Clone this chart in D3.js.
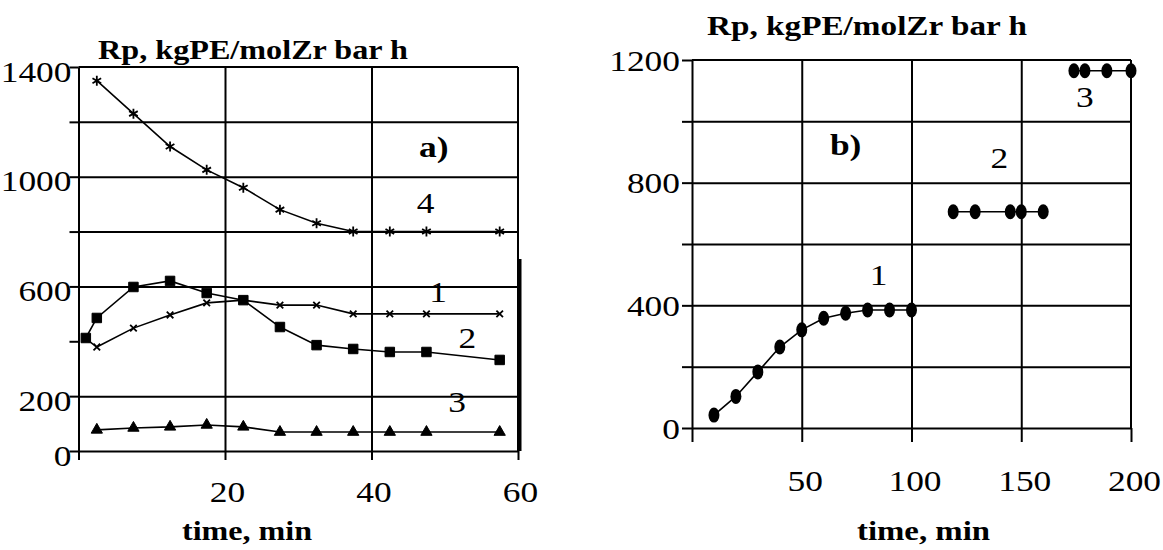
<!DOCTYPE html>
<html>
<head>
<meta charset="utf-8">
<script src="https://cdn.jsdelivr.net/npm/d3@7"></script>
<style>
  body { margin: 0; background: #fff; }
  svg text { font-family: "Liberation Serif", "Times New Roman", "DejaVu Serif", serif; }
</style>
</head>
<body>
<div class="chartWrap"></div>
<script>
//Data - panel a) Rp vs time for runs 1-4
const timeA12 = [1, 2.5, 7.5, 12.5, 17.5, 22.5, 27.5, 32.5, 37.5, 42.5, 47.5, 57.5];
const timeA34 = [2.5, 7.5, 12.5, 17.5, 22.5, 27.5, 32.5, 37.5, 42.5, 47.5, 57.5];
const rpA1 = [410, 379, 448, 496, 540, 550, 532, 532, 500, 500, 500, 500];
const rpA2 = [412, 485, 598, 620, 576, 550, 452, 386, 372, 361, 361, 332];
const rpA3 = [77, 84, 88, 95, 88, 69, 69, 69, 69, 69, 69];
const rpA4 = [1350, 1230, 1110, 1025, 960, 880, 830, 800, 800, 800, 800];

//Data - panel b) Rp vs time for steps 1-3
const timeB1 = [10, 20, 30, 40, 50, 60, 70, 80, 90, 100];
const rpB1 = [42, 103, 183, 264, 320, 358, 374, 385, 385, 385];
const timeB2 = [119, 129, 145, 150, 160];
const rpB2 = [705, 705, 705, 705, 705];
const timeB3 = [174, 179, 189, 200];
const rpB3 = [1165, 1165, 1165, 1165];

//Axis ticks / labels
const yTicksA = [0, 200, 400, 600, 800, 1000, 1200, 1400];
const yGridA = [200, 600, 800, 1000, 1200];
const yLabelsA = [0, 200, 600, 1000, 1400];
const xTicksA = [0, 20, 40, 60];
const xGridA = [20, 40];
const xLabelsA = [20, 40, 60];

const yTicksB = [0, 200, 400, 600, 800, 1000, 1200];
const yGridB = [200, 400, 600, 800, 1000];
const yLabelsB = [0, 400, 800, 1200];
const xTicksB = [0, 50, 100, 150, 200];
const xGridB = [50, 100, 150];
const xLabelsB = [50, 100, 150, 200];

const yTitle = "Rp, kgPE/molZr bar h";
const xTitle = "time, min";

const font = "'Liberation Serif', 'Times New Roman', 'DejaVu Serif', serif";
const w = 1163, h = 550;
let svg = d3.select(".chartWrap").append("svg").attr("width", w).attr("height", h)
  .attr("font-family", font);

//Scales
let xA = d3.scaleLinear().domain([0, 60]).range([78.5, 518]);
let yA = d3.scaleLinear().domain([0, 1400]).range([451, 67]);
let xB = d3.scaleLinear().domain([0, 200]).range([692, 1131]);
let yB = d3.scaleLinear().domain([0, 1200]).range([428, 60]);

function drawFrame(x, y, o) {
  let x0 = x.range()[0], x1 = x.range()[1], y0 = y.range()[0], y1 = y.range()[1];
  let g = svg.append("g");
  //horizontal grid
  g.append("g").attr("transform", "translate(" + x0 + ",0)")
    .call(d3.axisLeft(y).tickValues(o.yGrid).tickSize(-(x1 - x0)).tickSizeOuter(0).tickFormat(""))
    .call(s => s.select(".domain").remove());
  //vertical grid
  g.append("g").attr("transform", "translate(0," + y0 + ")")
    .call(d3.axisBottom(x).tickValues(o.xGrid).tickSize(-(y0 - y1)).tickSizeOuter(0).tickFormat(""))
    .call(s => s.select(".domain").remove());
  //top + right border
  g.append("line").attr("x1", x0).attr("x2", x1).attr("y1", y1).attr("y2", y1);
  g.append("line").attr("x1", x1).attr("x2", x1).attr("y1", y1).attr("y2", y0);
  //left axis with ticks
  let ya = g.append("g").attr("transform", "translate(" + x0 + ",0)")
    .call(d3.axisLeft(y).tickValues(o.yTicks).tickSize(o.tickY).tickSizeOuter(0)
      .tickFormat(d => o.yLabels.includes(d) ? d : ""));
  ya.selectAll("text").attr("x", o.labX).attr("y", o.labY).attr("dy", 0);
  //bottom axis with ticks
  let xa = g.append("g").attr("transform", "translate(0," + y0 + ")")
    .call(d3.axisBottom(x).tickValues(o.xTicks).tickSize(o.tickX).tickSizeOuter(0)
      .tickFormat(d => o.xLabels.includes(d) ? d : ""));
  xa.selectAll("text").attr("y", o.labXY).attr("dy", 0).attr("dx", o.labXdx);
  g.selectAll("g").attr("font-family", font).attr("font-size", 30);
  g.selectAll("text").attr("font-size", 30).attr("font-family", font).attr("fill", "#000");
  g.selectAll("line, path").attr("stroke", "#000").attr("stroke-width", 2);
  return g;
}

drawFrame(xA, yA, {yGrid: yGridA, xGrid: xGridA, yTicks: yTicksA, yLabels: yLabelsA, xTicks: xTicksA, xLabels: xLabelsA,
  tickY: 9, tickX: 9, labX: -7, labY: 14, labXY: 51, labXdx: 2});
drawFrame(xB, yB, {yGrid: yGridB, xGrid: xGridB, yTicks: yTicksB, yLabels: yLabelsB, xTicks: xTicksB, xLabels: xLabelsB,
  tickY: 10, tickX: 14, labX: -12, labY: 10, labXY: 63, labXdx: 3});

//heavier piece of the right border on panel a)
svg.append("line").attr("x1", xA(60) + 1.5).attr("x2", xA(60) + 1.5).attr("y1", yA(700)).attr("y2", yA(0))
  .attr("stroke", "#000").attr("stroke-width", 4);

//Series
function series(x, y, tArr, vArr) {
  let pts = d3.zip(tArr, vArr);
  svg.append("path").datum(pts)
    .attr("d", d3.line().x(d => x(d[0])).y(d => y(d[1])))
    .attr("fill", "none").attr("stroke", "#000").attr("stroke-width", 1.6);
  return pts;
}
function symbols(x, y, pts, type, size, filled) {
  svg.append("g").selectAll("path").data(pts).enter().append("path")
    .attr("transform", d => "translate(" + x(d[0]) + "," + y(d[1]) + ")")
    .attr("d", d3.symbol(type, size))
    .attr("fill", filled ? "#000" : "none")
    .attr("stroke", "#000").attr("stroke-width", filled ? 1 : 1.8);
}

//panel a)
let pA4 = series(xA, yA, timeA34, rpA4);
symbols(xA, yA, pA4, d3.symbolAsterisk, 70, false);
let pA1 = series(xA, yA, timeA12, rpA1);
symbols(xA, yA, pA1, d3.symbolTimes, 30, false);
let pA2 = series(xA, yA, timeA12, rpA2);
symbols(xA, yA, pA2, d3.symbolSquare, 90, true);
let pA3 = series(xA, yA, timeA34, rpA3);
symbols(xA, yA, pA3, d3.symbolTriangle, 55, true);

//panel b)
[[timeB1, rpB1], [timeB2, rpB2], [timeB3, rpB3]].forEach(function(s) {
  let pts = series(xB, yB, s[0], s[1]);
  svg.append("g").selectAll("ellipse").data(pts).enter().append("ellipse")
    .attr("cx", d => xB(d[0])).attr("cy", d => yB(d[1]))
    .attr("rx", 5.5).attr("ry", 7.5).attr("fill", "#000");
});

//Titles
function label(x, y, str, bold, len, anchor) {
  let t = svg.append("text").attr("x", x).attr("y", y).text(str)
    .attr("font-family", font)
    .attr("font-size", bold ? 28 : 30).attr("font-weight", bold ? "bold" : "normal")
    .attr("text-anchor", anchor || "start");
  if (len) t.attr("textLength", len).attr("lengthAdjust", "spacingAndGlyphs").classed("fixed", true);
  return t;
}
label(98, 59, yTitle, true, 310);
label(707, 35, yTitle, true, 320);
label(182, 540, xTitle, true, 130);
label(857, 540, xTitle, true, 133);

//panel tags + curve numbers
label(xA(48.5), yA(1072), "a)", true, null, "middle").attr("font-size", 30);
label(xB(70), yB(890), "b)", true, null, "middle").attr("font-size", 30);
label(xA(47.4), yA(868), "4", false, null, "middle");
label(xA(49.1), yA(543), "1", false, null, "middle");
label(xA(53.1), yA(375), "2", false, null, "middle");
label(xA(51.7), yA(142), "3", false, null, "middle");
label(xB(85), yB(466), "1", false, null, "middle");
label(xB(140), yB(848), "2", false, null, "middle");
label(xB(179), yB(1047), "3", false, null, "middle");

//the scanned figure has wider glyphs: stretch remaining text a bit
svg.selectAll("text:not(.fixed)").each(function() {
  let len = this.getComputedTextLength();
  if (len > 0) d3.select(this).attr("textLength", len * 1.18).attr("lengthAdjust", "spacingAndGlyphs");
});
</script>
</body>
</html>
